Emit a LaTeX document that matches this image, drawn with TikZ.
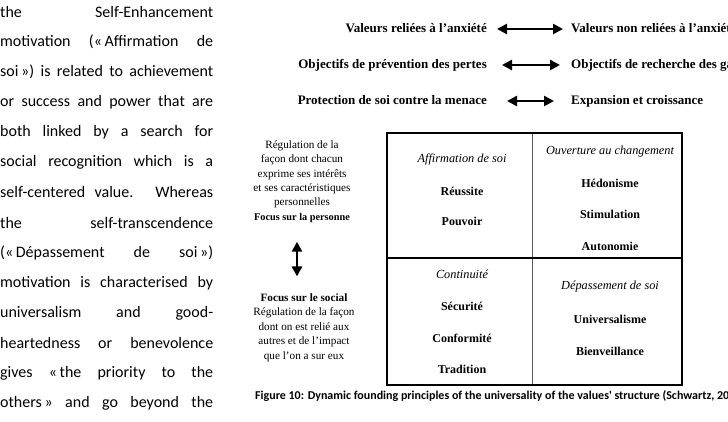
\documentclass[tikz,border=0pt]{standalone}
\usepackage{fontspec}
\setmainfont{Liberation Serif}
\newfontfamily\carl{Carlito}
\usetikzlibrary{arrows.meta,calc}
\tikzset{
  para/.style={anchor=west, inner sep=0pt, font=\carl\fontsize{16}{18}\selectfont},
  rowtxt/.style={inner sep=0pt, font=\bfseries\fontsize{13}{15}\selectfont, text height=9pt, text depth=3pt},
  bigarrow/.style={line width=2.6pt, {Triangle[length=10pt,width=10pt]}-{Triangle[length=10pt,width=10pt]}},
  cellhead/.style={inner sep=0pt, font=\itshape\fontsize{12.3}{14}\selectfont},
  cellitem/.style={inner sep=0pt, font=\bfseries\fontsize{12}{14}\selectfont},
  sideblock/.style={inner sep=0pt, align=center, font=\fontsize{11.2}{14.4}\selectfont},
}
\newcommand{\jl}[1]{\makebox[213pt][s]{#1}}
\begin{document}
\begin{tikzpicture}[x=1pt,y=-1pt]
\useasboundingbox (0,0) rectangle (728,421);
\clip (0,0) rectangle (728,421);
% left paragraph
\node[para] (p1) at (0,12) {\jl{the Self-Enhancement}};
\node[para] (p2) at (0,42) {\jl{motivation («\,Affirmation de}};
\node[para] (p3) at (0,72) {\jl{soi\,») is related to achievement}};
\node[para] (p4) at (0,102) {\jl{or success and power that are}};
\node[para] (p5) at (0,132) {\jl{both linked by a search for}};
\node[para] (p6) at (0,162) {\jl{social recognition which is a}};
\node[para] (p7) at (0,192) {\jl{self-centered value. Whereas}};
\node[para] (p8) at (0,223) {\jl{the self-transcendence}};
\node[para] (p9) at (0,253) {\jl{(«\,Dépassement de soi\,»)}};
\node[para] (p10) at (0,283) {\jl{motivation is characterised by}};
\node[para] (p11) at (0,313) {\jl{universalism and good-}};
\node[para] (p12) at (0,343) {\jl{heartedness or benevolence}};
\node[para] (p13) at (0,373) {\jl{gives «\,the priority to the}};
\node[para] (p14) at (0,403) {\jl{others\,» and go beyond the}};
% arrow rows
\node[rowtxt, anchor=east] (L1) at (487,29) {Valeurs reliées à l'anxiété};
\node[rowtxt, anchor=west] (R1) at (571,29) {Valeurs non reliées à l'anxiété};
\node[rowtxt, anchor=east] (L2) at (487,65) {Objectifs de prévention des pertes};
\node[rowtxt, anchor=west] (R2) at (571,65) {Objectifs de recherche des gains};
\node[rowtxt, anchor=east] (L3) at (487,101) {Protection de soi contre la menace};
\node[rowtxt, anchor=west] (R3) at (571,101) {Expansion et croissance};
\draw[bigarrow] ($(L1.east)+(10,0)$) -- ($(R1.west)+(-8,0)$);
\draw[bigarrow] ($(L2.east)+(15,0)$) -- ($(R2.west)+(-11,0)$);
\draw[bigarrow] ($(L3.east)+(20,0)$) -- ($(R3.west)+(-17,0)$);
% side blocks
\node[sideblock] (ptop) at (302,181.5) {Régulation de la\\façon dont chacun\\exprime ses intérêts\\et ses caractéristiques\\personnelles\\\textbf{\fontsize{10.3}{14.4}\selectfont Focus sur la personne}};
\node[sideblock] (psoc) at (304,327.5) {\textbf{Focus sur le social}\\Régulation de la façon\\dont on est relié aux\\autres et de l'impact\\que l'on a sur eux};
\draw[bigarrow] ($(ptop.south)+(-5,19)$) -- ($(psoc.north)+(-7,-17)$);
% table
\coordinate (tl) at (387,133);
\coordinate (br) at (682,385);
\coordinate (ml) at (387,258);
\coordinate (mr) at (682,258);
\coordinate (vt) at (532,133);
\coordinate (vb) at (532,385);
\draw[line width=0.7pt, gray!70!black] (vt) -- (vb);
\draw[line width=1.3pt] (ml) -- (mr);
\draw[line width=1.6pt] (tl) rectangle (br);
% cells
\node[cellhead] (c1h) at (462,159) {Affirmation de soi};
\node[cellitem] (c1a) at (462,191) {Réussite};
\node[cellitem] (c1b) at (462,221) {Pouvoir};
\node[cellhead] (c2h) at (610,152) {Ouverture au changement};
\node[cellitem] (c2a) at (610,183) {Hédonisme};
\node[cellitem] (c2b) at (610,214) {Stimulation};
\node[cellitem] (c2c) at (610,246) {Autonomie};
\node[cellhead] (c3h) at (462,274) {Continuité};
\node[cellitem] (c3a) at (462,306) {Sécurité};
\node[cellitem] (c3b) at (462,338) {Conformité};
\node[cellitem] (c3c) at (462,369) {Tradition};
\node[cellhead] (c4h) at (610,287) {Dépassement de soi};
\node[cellitem] (c4a) at (610,319) {Universalisme};
\node[cellitem] (c4b) at (610,351) {Bienveillance};
% caption
\node[anchor=west, inner sep=0pt, font=\carl\bfseries\fontsize{12}{14}\selectfont] (cap) at (255,396) {Figure 10: Dynamic founding principles of the universality of the values' structure (Schwartz, 2006)};
\end{tikzpicture}
\end{document}
